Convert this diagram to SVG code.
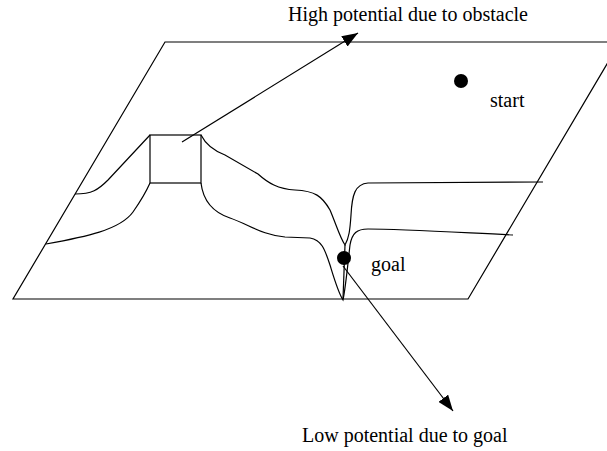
<svg xmlns="http://www.w3.org/2000/svg" width="607" height="451" viewBox="0 0 607 451">
<style>
.ln{fill:none;stroke:#000;stroke-width:1.2}
.lbl{font-family:"Liberation Serif","Times New Roman",serif;font-size:20px;fill:#000}
.dot{fill:#000}
</style>
<defs>
<marker id="ah" markerUnits="userSpaceOnUse" markerWidth="16" markerHeight="12" refX="16" refY="6" orient="auto">
<path d="M0,0 L16,6 L0,12 z" fill="#000"/>
</marker>
</defs>
<rect width="607" height="451" fill="#fff"/>
<g id="plane">
<polygon class="ln" points="13,299 468,299 620,42 165,42"/>
</g>
<g id="obstacle">
<rect class="ln" x="150" y="135" width="51" height="48"/>
</g>
<g id="surface">
<path class="ln" d="M75,194 C92,194 98,190 108,180 L150,135"/>
<path class="ln" d="M46,244 C85,237 120,230 133,212 C140,202 146,192 150,183"/>
<path class="ln" d="M201,135 C205,143 212,150 225,155 L258,174 C268,183 278,189 295,190 C315,191 322,196 330,210 C336,224 340,238 345,245 C349,238 350,230 351,215 C352,195 355,184 368,183 L543,182"/>
<path class="ln" d="M201,183 C203,200 212,212 230,218 C250,225 262,235 285,237 L310,238 C322,240 325,250 330,265 C334,278 338,292 343,300 C346,285 348,262 350,245 C352,233 357,229 368,229 C400,229 450,232 513,235"/>
<path class="ln" d="M345,245 L343,299"/>
</g>
<g id="start">
<circle class="dot" cx="461" cy="81" r="7"/>
<text class="lbl" x="490" y="107">start</text>
</g>
<g id="goal">
<circle class="dot" cx="344" cy="258" r="7"/>
<text class="lbl" x="371" y="271">goal</text>
</g>
<g id="high-label">
<text class="lbl" x="288" y="21">High potential due to obstacle</text>
</g>
<g id="low-label">
<text class="lbl" x="302" y="442">Low potential due to goal</text>
</g>
<g id="connectors">
<line class="ln" x1="182" y1="142" x2="358" y2="33" marker-end="url(#ah)"/>
<line class="ln" x1="343" y1="266" x2="453" y2="411" marker-end="url(#ah)"/>
</g>
</svg>
